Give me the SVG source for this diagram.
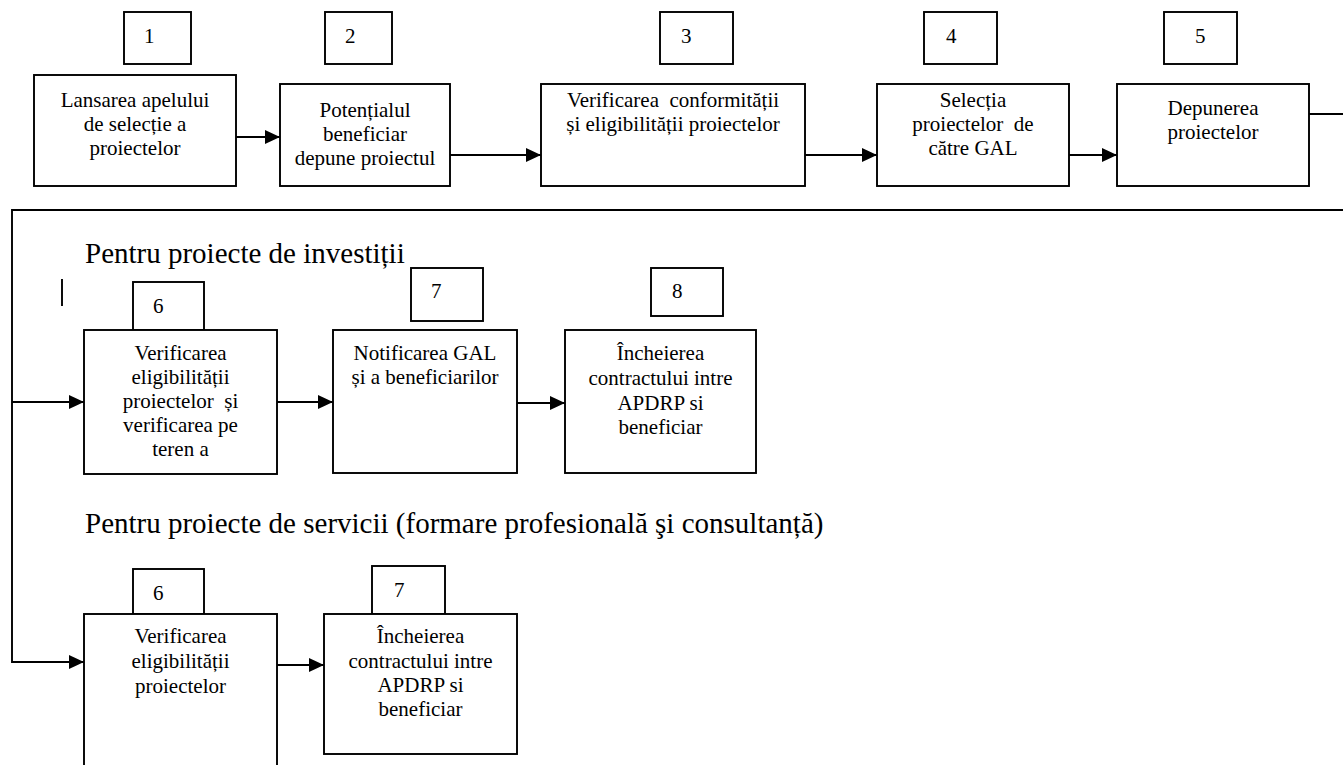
<svg xmlns="http://www.w3.org/2000/svg" width="1343" height="765" viewBox="0 0 1343 765">
<defs>
<marker id="arr" markerUnits="userSpaceOnUse" markerWidth="16" markerHeight="14" refX="15" refY="7" orient="auto">
<path d="M0,0 L15,7 L0,14 Z" fill="#000"/>
</marker>
<style>
rect{fill:#fff;stroke:#000;stroke-width:1.9}
text{font-family:"Liberation Serif","Times New Roman",serif;fill:#000}
.t{font-size:21px;text-anchor:middle}
.n{font-size:21px}
.h{font-size:29px}
.c{fill:none;stroke:#000;stroke-width:1.9}
</style>
</defs>
<rect width="1343" height="765" fill="#fff" style="stroke:none"/>

<g id="connectors">
<line class="c" x1="236" y1="137" x2="280" y2="137" marker-end="url(#arr)"/>
<line class="c" x1="450" y1="155" x2="541" y2="155" marker-end="url(#arr)"/>
<line class="c" x1="805" y1="155" x2="877" y2="155" marker-end="url(#arr)"/>
<line class="c" x1="1069" y1="155" x2="1117" y2="155" marker-end="url(#arr)"/>
<polyline class="c" points="1309,114 1345,114"/>
<polyline class="c" points="1345,210 12,210 12,662 84,662" marker-end="url(#arr)"/>
<line class="c" x1="12" y1="402" x2="84" y2="402" marker-end="url(#arr)"/>
<line class="c" x1="277" y1="402" x2="333" y2="402" marker-end="url(#arr)"/>
<line class="c" x1="517" y1="403" x2="565" y2="403" marker-end="url(#arr)"/>
<line class="c" x1="277" y1="665" x2="324" y2="665" marker-end="url(#arr)"/>
</g>

<g id="n1">
<rect x="124" y="12" width="67" height="52"/><text class="n" x="144" y="43">1</text>
<rect x="34" y="75" width="202" height="111"/>
<text class="t" x="135" y="107">Lansarea apelului</text>
<text class="t" x="135" y="131">de selecție a</text>
<text class="t" x="135" y="155">proiectelor</text>
</g>
<g id="n2">
<rect x="325" y="12" width="67" height="52"/><text class="n" x="345" y="43">2</text>
<rect x="280" y="84" width="170" height="102"/>
<text class="t" x="365" y="117">Potențialul</text>
<text class="t" x="365" y="141">beneficiar</text>
<text class="t" x="365" y="165">depune proiectul</text>
</g>
<g id="n3">
<rect x="660" y="12" width="73" height="52"/><text class="n" x="681" y="43">3</text>
<rect x="541" y="84" width="264" height="102"/>
<text class="t" x="673" y="107" xml:space="preserve">Verificarea  conformității</text>
<text class="t" x="673" y="131">și eligibilității proiectelor</text>
</g>
<g id="n4">
<rect x="924" y="12" width="73" height="52"/><text class="n" x="946" y="43">4</text>
<rect x="877" y="84" width="192" height="102"/>
<text class="t" x="973" y="107">Selecția</text>
<text class="t" x="973" y="131" xml:space="preserve">proiectelor  de</text>
<text class="t" x="973" y="155">către GAL</text>
</g>
<g id="n5">
<rect x="1164" y="12" width="73" height="52"/><text class="n" x="1195" y="43">5</text>
<rect x="1117" y="84" width="192" height="102"/>
<text class="t" x="1213" y="115">Depunerea</text>
<text class="t" x="1213" y="139">proiectelor</text>
</g>

<text class="h" x="85" y="263">Pentru proiecte de investiții</text>
<line class="c" x1="62" y1="279" x2="62" y2="306"/>

<g id="i6">
<rect x="133" y="282" width="71" height="48"/><text class="n" x="153" y="313">6</text>
<rect x="84" y="330" width="193" height="144"/>
<text class="t" x="180.5" y="360">Verificarea</text>
<text class="t" x="180.5" y="384">eligibilității</text>
<text class="t" x="180.5" y="408" xml:space="preserve">proiectelor  și</text>
<text class="t" x="180.5" y="432">verificarea pe</text>
<text class="t" x="180.5" y="456">teren a</text>
</g>
<g id="i7">
<rect x="411" y="268" width="72" height="53"/><text class="n" x="431" y="298">7</text>
<rect x="333" y="330" width="184" height="143"/>
<text class="t" x="425" y="360">Notificarea GAL</text>
<text class="t" x="425" y="384">și a beneficiarilor</text>
</g>
<g id="i8">
<rect x="651" y="268" width="72" height="48"/><text class="n" x="672" y="298">8</text>
<rect x="565" y="330" width="191" height="143"/>
<text class="t" x="660.5" y="360">Încheierea</text>
<text class="t" x="660.5" y="385">contractului intre</text>
<text class="t" x="660.5" y="410">APDRP si</text>
<text class="t" x="660.5" y="434">beneficiar</text>
</g>

<text class="h" x="85" y="533">Pentru proiecte de servicii (formare profesională şi consultanță)</text>

<g id="s6">
<rect x="133" y="569" width="71" height="45"/><text class="n" x="153" y="600">6</text>
<rect x="84" y="614" width="193" height="170"/>
<text class="t" x="180.5" y="643">Verificarea</text>
<text class="t" x="180.5" y="668">eligibilității</text>
<text class="t" x="180.5" y="693">proiectelor</text>
</g>
<g id="s7">
<rect x="372" y="566" width="73" height="48"/><text class="n" x="394" y="597">7</text>
<rect x="324" y="614" width="193" height="140"/>
<text class="t" x="420.5" y="643">Încheierea</text>
<text class="t" x="420.5" y="668">contractului intre</text>
<text class="t" x="420.5" y="692">APDRP si</text>
<text class="t" x="420.5" y="716">beneficiar</text>
</g>
</svg>
